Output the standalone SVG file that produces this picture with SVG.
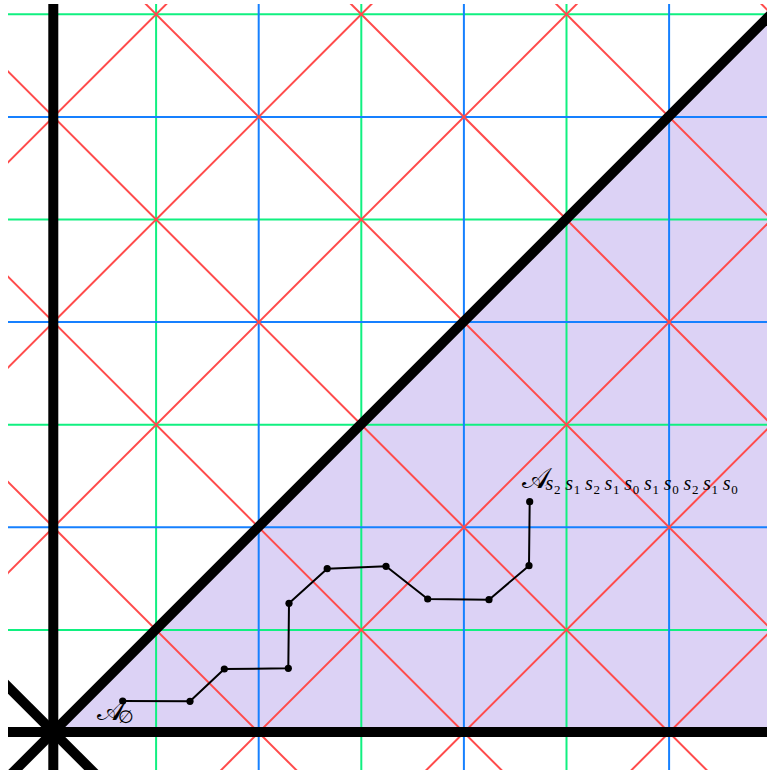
<svg xmlns="http://www.w3.org/2000/svg" width="767" height="770" viewBox="0 0 767 770">
<style>
.g{stroke:#10f080;stroke-width:2;fill:none}
.b{stroke:#1680ff;stroke-width:2;fill:none}
.r{stroke:#ff4b4b;stroke-width:2;fill:none}
.k{stroke:#000;stroke-width:10;fill:none}
.p{stroke:#000;stroke-width:2;fill:none;stroke-linejoin:round}
.d{fill:#000}
.A{font-family:"DejaVu Sans","Noto Sans",serif;font-size:29px;fill:#000}
.s{font-family:"Liberation Serif",serif;font-style:italic;font-size:20px;fill:#000}
.n{font-family:"Liberation Serif",serif;font-size:13px;fill:#000}
.e{font-family:"DejaVu Serif",serif;font-size:18px;fill:#000}
</style>
<defs>
<clipPath id="cl"><rect x="8" y="4" width="770" height="780"/></clipPath>
</defs>
<rect width="767" height="770" fill="#fff"/>
<g clip-path="url(#cl)">
<g id="chamber">
<polygon points="53.3,732 900,732 900,-114.7" fill="#dcd2f5"/>
</g>
<g id="grid-green">
<line class="g" x1="156.1" y1="-10" x2="156.1" y2="800"/>
<line class="g" x1="361.3" y1="-10" x2="361.3" y2="800"/>
<line class="g" x1="566.5" y1="-10" x2="566.5" y2="800"/>
<line class="g" x1="-10" y1="14.3" x2="800" y2="14.3"/>
<line class="g" x1="-10" y1="219.5" x2="800" y2="219.5"/>
<line class="g" x1="-10" y1="424.7" x2="800" y2="424.7"/>
<line class="g" x1="-10" y1="629.9" x2="800" y2="629.9"/>
</g>
<g id="grid-blue">
<line class="b" x1="258.7" y1="-10" x2="258.7" y2="800"/>
<line class="b" x1="463.9" y1="-10" x2="463.9" y2="800"/>
<line class="b" x1="669.1" y1="-10" x2="669.1" y2="800"/>
<line class="b" x1="-10" y1="116.9" x2="800" y2="116.9"/>
<line class="b" x1="-10" y1="322.1" x2="800" y2="322.1"/>
<line class="b" x1="-10" y1="527.3" x2="800" y2="527.3"/>
</g>
<g id="grid-red">
<line class="r" x1="-100" y1="270.4" x2="900" y2="-729.6"/>
<line class="r" x1="-100" y1="475.6" x2="900" y2="-524.4"/>
<line class="r" x1="-100" y1="680.8" x2="900" y2="-319.2"/>
<line class="r" x1="-100" y1="886" x2="900" y2="-114"/>
<line class="r" x1="-100" y1="1091.2" x2="900" y2="91.2"/>
<line class="r" x1="-100" y1="1296.4" x2="900" y2="296.4"/>
<line class="r" x1="-100" y1="1501.6" x2="900" y2="501.6"/>
<line class="r" x1="-100" y1="579" x2="900" y2="1579"/>
<line class="r" x1="-100" y1="373.8" x2="900" y2="1373.8"/>
<line class="r" x1="-100" y1="168.6" x2="900" y2="1168.6"/>
<line class="r" x1="-100" y1="-36.6" x2="900" y2="963.4"/>
<line class="r" x1="-100" y1="-241.8" x2="900" y2="758.2"/>
<line class="r" x1="-100" y1="-447" x2="900" y2="553"/>
<line class="r" x1="-100" y1="-652.2" x2="900" y2="347.8"/>
<line class="r" x1="-100" y1="-857.4" x2="900" y2="142.6"/>
</g>
<g id="walls">
<line class="k" x1="53.3" y1="-10" x2="53.3" y2="800"/>
<line class="k" x1="-10" y1="732" x2="800" y2="732"/>
<line class="k" x1="-100" y1="885.3" x2="900" y2="-114.7"/>
<line class="k" x1="-100" y1="578.7" x2="900" y2="1578.7"/>
</g>
</g>
<g id="connectors">
<polyline class="p" points="122.7,701 190,701.3 224.3,669 288.3,668.3 289,603.3 327.2,568.7 386,566.3 427.7,599 489,599.7 529,565.7 529.7,501.7"/>
</g>
<g id="node-start">
<circle class="d" cx="122.7" cy="701" r="3.6"/>
<text x="97" y="720"><tspan class="A">𝒜</tspan><tspan class="e" x="118" y="723">∅</tspan></text>
</g>
<g id="node-1"><circle class="d" cx="190" cy="701.3" r="3.6"/></g>
<g id="node-2"><circle class="d" cx="224.3" cy="669" r="3.6"/></g>
<g id="node-3"><circle class="d" cx="288.3" cy="668.3" r="3.6"/></g>
<g id="node-4"><circle class="d" cx="289" cy="603.3" r="3.6"/></g>
<g id="node-5"><circle class="d" cx="327.2" cy="568.7" r="3.6"/></g>
<g id="node-6"><circle class="d" cx="386" cy="566.3" r="3.6"/></g>
<g id="node-7"><circle class="d" cx="427.7" cy="599" r="3.6"/></g>
<g id="node-8"><circle class="d" cx="489" cy="599.7" r="3.6"/></g>
<g id="node-9"><circle class="d" cx="529" cy="565.7" r="3.6"/></g>
<g id="node-end">
<circle class="d" cx="529.7" cy="501.7" r="3.6"/>
<text x="522" y="488"><tspan class="A">𝒜</tspan><tspan class="s" x="545.5" y="490">s</tspan><tspan class="n" x="554" y="493.5">2</tspan><tspan class="s" x="565.2" y="490">s</tspan><tspan class="n" x="573.7" y="493.5">1</tspan><tspan class="s" x="584.9" y="490">s</tspan><tspan class="n" x="593.4" y="493.5">2</tspan><tspan class="s" x="604.6" y="490">s</tspan><tspan class="n" x="613.1" y="493.5">1</tspan><tspan class="s" x="624.3" y="490">s</tspan><tspan class="n" x="632.8" y="493.5">0</tspan><tspan class="s" x="644" y="490">s</tspan><tspan class="n" x="652.5" y="493.5">1</tspan><tspan class="s" x="663.7" y="490">s</tspan><tspan class="n" x="672.2" y="493.5">0</tspan><tspan class="s" x="683.4" y="490">s</tspan><tspan class="n" x="691.9" y="493.5">2</tspan><tspan class="s" x="703.1" y="490">s</tspan><tspan class="n" x="711.6" y="493.5">1</tspan><tspan class="s" x="722.8" y="490">s</tspan><tspan class="n" x="731.3" y="493.5">0</tspan></text>
</g>
</svg>
